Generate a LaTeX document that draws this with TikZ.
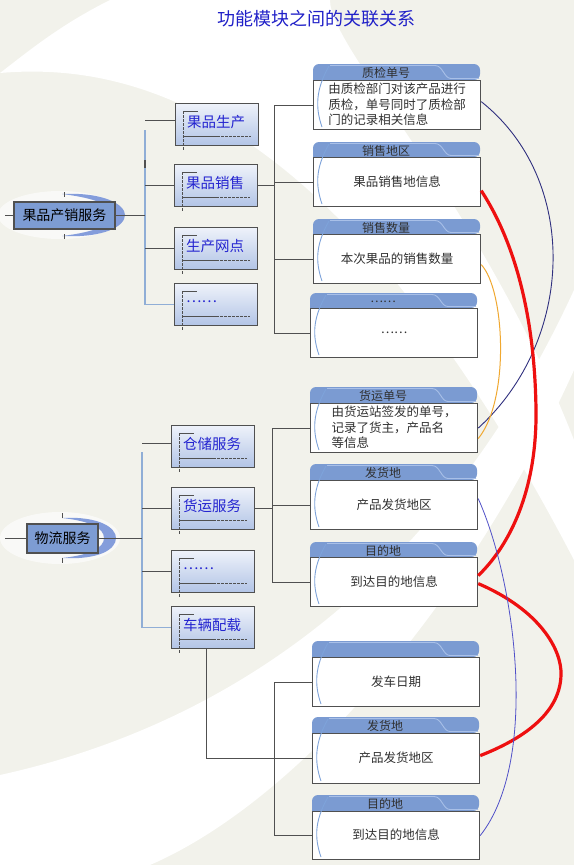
\documentclass[tikz,border=0pt]{standalone}
\usepackage{fontspec}
\newfontfamily\cjk{Noto Sans CJK SC}
\usetikzlibrary{calc}
\definecolor{bgc}{HTML}{F2F2EB}
\definecolor{rootfill}{HTML}{7D9CD3}
\definecolor{subtop}{HTML}{EEF2FA}
\definecolor{subbot}{HTML}{B2C4E6}
\definecolor{hdrc}{HTML}{7B9BD2}
\definecolor{tabc}{HTML}{A9C0E8}
\definecolor{arcc}{HTML}{7EA3DA}
\definecolor{subtxt}{HTML}{2424D0}
\definecolor{titlec}{HTML}{2020C8}
\definecolor{trunkc}{HTML}{90AED6}
\definecolor{darkc}{HTML}{505050}
\definecolor{navyc}{HTML}{30307F}
\definecolor{orangec}{HTML}{F0A830}
\definecolor{redc}{HTML}{EE1010}
\definecolor{bluec}{HTML}{5050C8}
\definecolor{txtc}{HTML}{303030}
\tikzset{
  conn/.style={draw=darkc, line width=1pt},
  trunk/.style={draw=trunkc, line width=1.2pt},
  subbox/.style={draw=darkc, line width=1.2pt, top color=subtop, bottom color=subbot, minimum width=83pt, minimum height=42pt, inner sep=0pt},
  deco/.style={draw=darkc, line width=0.9pt},
  decodash/.style={draw=darkc, line width=0.9pt, dash pattern=on 2.5pt off 1.5pt},
  subtext/.style={text=subtxt, font=\cjk\fontsize{14.5}{16}\selectfont, inner sep=0pt},
  rootbox/.style={draw=darkc, line width=1.2pt, fill=rootfill, inner sep=0pt, font=\cjk\fontsize{14}{16}\selectfont, text=black},
  recbody/.style={draw=darkc, line width=1.2pt, fill=white, minimum width=167pt, inner sep=0pt},
  hdrtext/.style={text=txtc, font=\cjk\fontsize{12}{14}\selectfont, inner sep=0pt},
  bodytext/.style={text=txtc, font=\cjk\fontsize{12.5}{15.5}\selectfont, inner sep=0pt, align=left},
  innerarc/.style={draw=arcc, line width=0.9pt},
  tabline/.style={draw=tabc, line width=0.9pt},
}
% #1 name, #2 x, #3 header top, #4 body top, #5 body height, #6 title, #7 body text
\newcommand\myrec[7]{%
  \fill[hdrc] (#2,#4) [rounded corners=6pt] |- (#2+80,#3) -| (#2+167,#4) [sharp corners] -- cycle;
  \draw[tabline] (#2+17,#3+1.5) -- (#2+122,#3+1.5) .. controls (#2+130,#3+1.5) and (#2+131,#4-1.5) .. (#2+138,#4-1.5) -- (#2+166,#4-1.5);
  \node[recbody, minimum height=#5pt, anchor=north west] (#1) at (#2,#4) {};
  \draw[innerarc] (#2+16,#3+2) .. controls (#2+3,#3+25) and (#2+2,#4+#5-22) .. (#2+9,#4+#5-2);
  \node[hdrtext] (#1h) at (#2+73,#3+8.5) {#6};
  \node[bodytext] (#1t) at (#2+84,#4+#5/2) {#7};
}
% #1 name, #2 x, #3 y, #4 text
\newcommand\mysub[4]{%
  \node[subbox, anchor=north west] (#1) at (#2,#3) {};
  \draw[deco] (#2+8,#3+8) -- (#2+23,#3+8);
  \draw[decodash] (#2+8,#3+8) -- (#2+8,#3+47);
  \draw[deco] (#2+8,#3+33) -- (#2+42,#3+33);
  \draw[decodash] (#2+42,#3+33) -- (#2+76,#3+33);
  \node[subtext, anchor=west] (#1t) at (#2+12,#3+19) {#4};
}
\begin{document}
\begin{tikzpicture}[x=1pt,y=-1pt,font=\cjk]
\useasboundingbox (0,0) rectangle (574,865);
% background
\fill[bgc] (0,0) rectangle (574,865);
\fill[white] (110,0) .. controls (60,25) and (30,50) .. (0,73) .. controls (150,60) and (350,130) .. (574,560) -- (574,440) .. controls (480,200) and (330,50) .. (330,0) -- cycle;
\fill[white] (0,775) .. controls (250,720) and (450,560) .. (574,290) -- (574,370) .. controls (470,600) and (300,800) .. (150,865) -- (0,865) -- cycle;
\fill[white, opacity=0.6] (60,215) ellipse [x radius=62, y radius=24];
\fill[white, opacity=0.6] (60,538) ellipse [x radius=60, y radius=26];

% title
\node[text=titlec, font=\cjk\fontsize{18}{20}\selectfont, inner sep=0pt] (title) at (316,19) {功能模块之间的关联关系};

% root 1
\fill[rootfill!90!blue, opacity=0.85] (62,194) .. controls (105,192) and (125,205) .. (125,215) .. controls (125,226) and (105,238) .. (62,236) .. controls (95,232) and (112,225) .. (112,215) .. controls (112,205) and (95,198) .. (62,194) -- cycle;
\draw[darkc, line width=1pt] (64,192) -- (64,197) (64,234) -- (64,239);
\node[rootbox, minimum width=101pt, minimum height=27pt] (R1) at (64.5,215.5) {果品产销服务};
\coordinate (L1) at (5,215.5);
\draw[conn] (L1) -- (R1.west);

% root 2
\fill[rootfill!90!blue, opacity=0.85] (62,518) .. controls (100,516) and (116,528) .. (116,538) .. controls (116,549) and (100,560) .. (62,558) .. controls (90,555) and (104,548) .. (104,538) .. controls (104,528) and (90,521) .. (62,518) -- cycle;
\draw[darkc, line width=1pt] (62,513) -- (62,518) (62,558) -- (62,563);
\node[rootbox, minimum width=71pt, minimum height=29pt] (R2) at (62.5,538.5) {物流服务};
\coordinate (L2) at (5,538.5);
\draw[conn] (L2) -- (R2.west);

% sub boxes
\mysub{s1}{175}{103}{果品生产}
\mysub{s2}{174}{164}{果品销售}
\mysub{s3}{174}{227}{生产网点}
\mysub{s4}{174}{283}{……}
\mysub{s5}{171}{425}{仓储服务}
\mysub{s6}{171}{487}{货运服务}
\mysub{s7}{171}{550}{……}
\mysub{s8}{171}{606}{车辆配载}

% record boxes
\myrec{r1}{313}{64}{80}{49}{质检单号}{由质检部门对该产品进行\\质检，单号同时了质检部\\门的记录相关信息}
\myrec{r2}{313}{142}{157}{49}{销售地区}{果品销售地信息}
\myrec{r3}{313}{219}{234}{49}{销售数量}{本次果品的销售数量}
\myrec{r4}{310}{293}{308}{49}{……}{……}
\myrec{r5}{310}{387}{403}{49}{货运单号}{由货运站签发的单号，\\记录了货主，产品名\\等信息}
\myrec{r6}{310}{464}{480}{49}{发货地}{产品发货地区}
\myrec{r7}{310}{542}{557}{49}{目的地}{到达目的地信息}
\myrec{r8}{312}{641}{657}{49}{}{发车日期}
\myrec{r9}{312}{717}{733}{50}{发货地}{产品发货地区}
\myrec{r10}{312}{795}{811}{48}{目的地}{到达目的地信息}

% tree 1 connectors
\coordinate (T1) at (145,130);
\draw[trunk] (T1) |- (s4.west);
\draw[conn] (R1.east) -- (R1.east -| T1);
\draw[conn] ([yshift=4pt]s1.west) -- ([yshift=4pt]s1.west -| T1);
\draw[conn] (s2.west) -- (s2.west -| T1);
\draw[conn] (s3.west) -- (s3.west -| T1);
\draw[darkc, line width=1.6pt] (145,160) -- (145,168);
\coordinate (V1) at (274,100);
\draw[conn] (s2.east) -- (s2.east -| V1);
\draw[conn] (r1.west) -| (r4.west -| V1) -- (r4.west);
\draw[conn] (r2.west) -- (r2.west -| V1);
\draw[conn] (r3.west) -- (r3.west -| V1);

% tree 2 connectors
\coordinate (T2) at (142,452);
\draw[trunk] (T2) |- (s8.west);
\draw[conn] (R2.east) -- (R2.east -| T2);
\draw[conn] ([yshift=3pt]s5.west) -- ([yshift=3pt]s5.west -| T2);
\draw[conn] (s6.west) -- (s6.west -| T2);
\draw[conn] (s7.west) -- (s7.west -| T2);
\coordinate (V2) at (272,420);
\draw[conn] (s6.east) -- (s6.east -| V2);
\draw[conn] (r5.west) -| (r7.west -| V2) -- (r7.west);
\draw[conn] (r6.west) -- (r6.west -| V2);
\coordinate (V3) at (274,680);
\draw[conn] ([xshift=-7pt]s8.south) |- (r9.west);
\draw[conn] (r8.west) -| (r10.west -| V3) -- (r10.west);

% relation curves
\draw[navyc, line width=0.9pt] ([yshift=3.5pt]r1.east) .. controls (580,180) and (575,340) .. (r5.east);
\draw[orangec, line width=1pt] ([yshift=-5.5pt]r3.east) .. controls (505,290) and (510,400) .. ([yshift=-10.5pt]r5.east);
\draw[redc, line width=3.2pt] ([yshift=-8.5pt]r2.east) .. controls (520,250) and (535,330) .. (536,410) .. controls (537,490) and (510,545) .. ([yshift=6.5pt]r7.east);
\draw[redc, line width=3.2pt] ([yshift=-1.5pt]r7.east) .. controls (540,610) and (562,650) .. (561,675) .. controls (560,715) and (520,740) .. ([yshift=3pt]r9.east);
\draw[bluec, line width=0.8pt] ([yshift=6.5pt]r6.east) .. controls (515,580) and (540,760) .. (r10.east);
\end{tikzpicture}
\end{document}
